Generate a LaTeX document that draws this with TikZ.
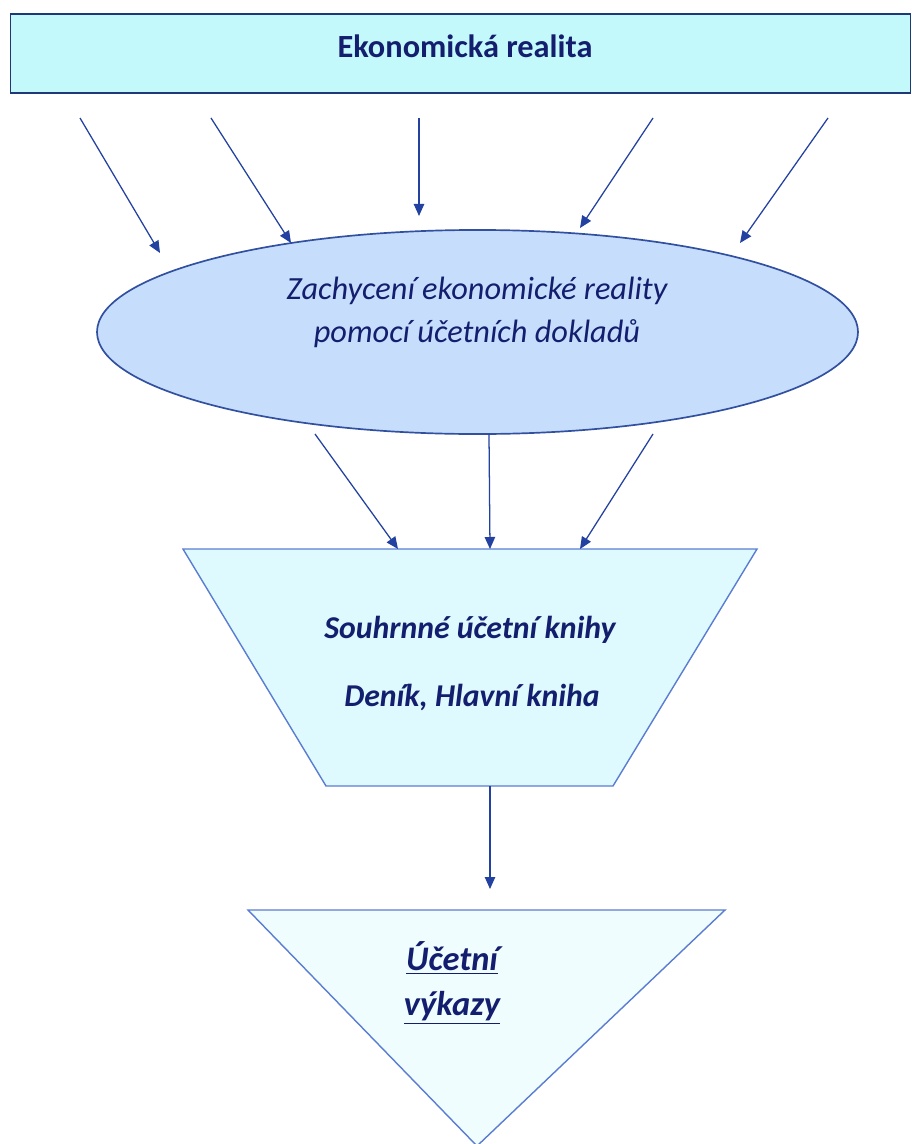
\documentclass[tikz,border=0pt]{standalone}
\usepackage{fontspec}
\setmainfont{Carlito}
\usepackage{tikz}
\usetikzlibrary{shapes.geometric,arrows.meta}
\definecolor{realfill}{RGB}{196,249,252}
\definecolor{realline}{RGB}{31,56,120}
\definecolor{ellfill}{RGB}{198,222,252}
\definecolor{ellline}{RGB}{50,80,160}
\definecolor{knfill}{RGB}{222,250,254}
\definecolor{vyfill}{RGB}{240,253,255}
\definecolor{shapeline}{RGB}{90,125,210}
\definecolor{navytext}{RGB}{20,30,110}
\definecolor{arrowblue}{RGB}{35,65,160}
\begin{document}
\begin{tikzpicture}[x=0.025cm,y=-0.025cm,
  tok/.style={draw=arrowblue,line width=0.9pt,-{Triangle[length=0.3cm,width=0.26cm]}},
  txt/.style={text=navytext,inner sep=0pt}]
\useasboundingbox (0,0) rectangle (912,1144);

\node[draw=realline,line width=1.2pt,fill=realfill,minimum width=22.5cm,minimum height=1.98cm,
  inner sep=0pt] (realita) at (460.5,53.5) {};
\node[txt,font=\fontsize{23}{28}\selectfont\bfseries] (realitatext) at (465,46) {Ekonomická realita};

\node[ellipse,draw=ellline,line width=1.2pt,fill=ellfill,minimum width=19.02cm,minimum height=5.1cm] (doklady) at (477.5,332) {};
\node[txt,align=center,font=\fontsize{23}{30.6}\selectfont\itshape] (doklytext) at (477,312)
  {Zachycení ekonomické reality\\ pomocí účetních dokladů};

\coordinate (a1) at (80,118);  \coordinate (b1) at (160,253);
\coordinate (a2) at (211,118); \coordinate (b2) at (291,243);
\coordinate (a3) at (419,118); \coordinate (b3) at (419,216);
\coordinate (a4) at (653,118); \coordinate (b4) at (580,228);
\coordinate (a5) at (828,118); \coordinate (b5) at (740,243);
\foreach \i in {1,...,5} {
  \draw[tok] (a\i) -- (b\i);
}

\coordinate (k1) at (183,549);
\coordinate (k2) at (757,549);
\coordinate (k3) at (613,786);
\coordinate (k4) at (326,786);
\draw[draw=shapeline,line width=1pt,fill=knfill] (k1) -- (k2) -- (k3) -- (k4) -- cycle;
\node[txt,font=\fontsize{22.6}{27}\selectfont\bfseries\itshape] (souhrn) at (470,630) {Souhrnné účetní knihy};
\node[txt,font=\fontsize{22.6}{27}\selectfont\bfseries\itshape] (denik) at (472,697) {Deník, Hlavní kniha};

\coordinate (c1) at (315,434); \coordinate (d1) at (398,549);
\coordinate (c2) at (489,434); \coordinate (d2) at (490,549);
\coordinate (c3) at (653,434); \coordinate (d3) at (580,549);
\foreach \i in {1,2,3} {
  \draw[tok] (c\i) -- (d\i);
}

\coordinate (v1) at (248,910);
\coordinate (v2) at (725,910);
\coordinate (v3) at (477,1146);
\draw[draw=shapeline,line width=1pt,fill=vyfill] (v1) -- (v2) -- (v3) -- cycle;
\node[txt,align=center,font=\fontsize{24.5}{32}\selectfont\bfseries\itshape] (vykazy) at (452,983)
  {\underline{Účetní}\\ \underline{výkazy}};

\coordinate (e1) at (490,786); \coordinate (f1) at (490,889);
\draw[tok] (e1) -- (f1);
\end{tikzpicture}
\end{document}
